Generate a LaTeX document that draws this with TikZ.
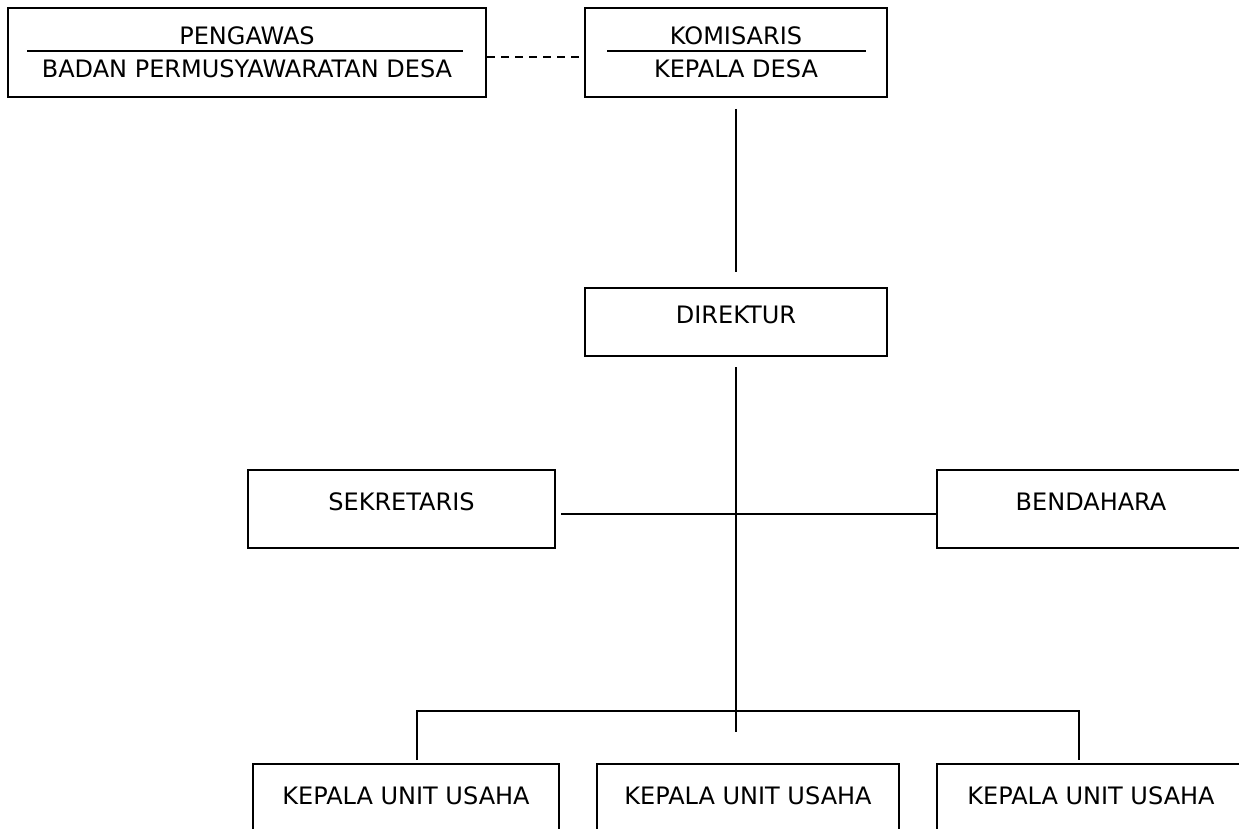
\documentclass[tikz,border=0pt]{standalone}
\usepackage{fontspec}
\setmainfont{DejaVu Sans}
\usetikzlibrary{calc}

\begin{document}
\begin{tikzpicture}[x=1pt, y=-1pt, line width=2pt,
    kotak/.style={draw, rectangle, fill=white, inner sep=0pt, font=\fontsize{24}{28}\selectfont, text depth=14pt},
    teks/.style={inner sep=0pt, font=\fontsize{24}{28}\selectfont, text height=17.5pt, text depth=0pt}]
    \useasboundingbox (0,0) rectangle (1239,829);
    \node[kotak, minimum width=478pt, minimum height=89pt] (pengawas) at (247,52.5) {};
    \node[teks] (pengawasA) at (247,36) {PENGAWAS};
    \node[teks] (pengawasB) at (247,69) {BADAN PERMUSYAWARATAN DESA};
    \draw[line width=1.7pt] ($(pengawas.north west)+(20,44)$) -- ($(pengawas.north east)+(-24,44)$);
    \node[kotak, minimum width=302pt, minimum height=89pt] (komisaris) at (736,52.5) {};
    \node[teks] (komisarisA) at (736,36) {KOMISARIS};
    \node[teks] (komisarisB) at (736,69) {KEPALA DESA};
    \draw[line width=1.7pt] ($(komisaris.north west)+(23,44)$) -- ($(komisaris.north east)+(-22,44)$);
    \node[kotak, minimum width=302pt, minimum height=68pt] (direktur) at (736,322) {DIREKTUR};
    \node[kotak, minimum width=307pt, minimum height=78pt] (sekretaris) at (401.5,509) {SEKRETARIS};
    \node[kotak, minimum width=308pt, minimum height=78pt] (bendahara) at (1091,509) {BENDAHARA};
    \node[kotak, minimum width=306pt, minimum height=78pt] (unitA) at (406,803) {KEPALA UNIT USAHA};
    \node[kotak, minimum width=302pt, minimum height=78pt] (unitB) at (748,803) {KEPALA UNIT USAHA};
    \node[kotak, minimum width=308pt, minimum height=78pt] (unitC) at (1091,803) {KEPALA UNIT USAHA};
    \coordinate (cabang) at (736,711);
    \coordinate (ujung) at (736,732);
    \draw[dash pattern=on 8pt off 6pt] ([yshift=-5pt]pengawas.east) -- ([yshift=-5pt]komisaris.west);
    \draw ([yshift=-11pt]komisaris.south) -- ([yshift=15pt]direktur.north);
    \draw ([yshift=-10pt]direktur.south) -- (ujung);
    \draw ([xshift=5pt,yshift=-5pt]sekretaris.east) -- ([yshift=-5pt]bendahara.west);
    \draw ([xshift=11pt,yshift=3pt]unitA.north) -- ([xshift=11pt]unitA.north |- cabang) -- ([xshift=-12pt]unitC.north |- cabang) -- ([xshift=-12pt,yshift=3pt]unitC.north);
\end{tikzpicture}
\end{document}
